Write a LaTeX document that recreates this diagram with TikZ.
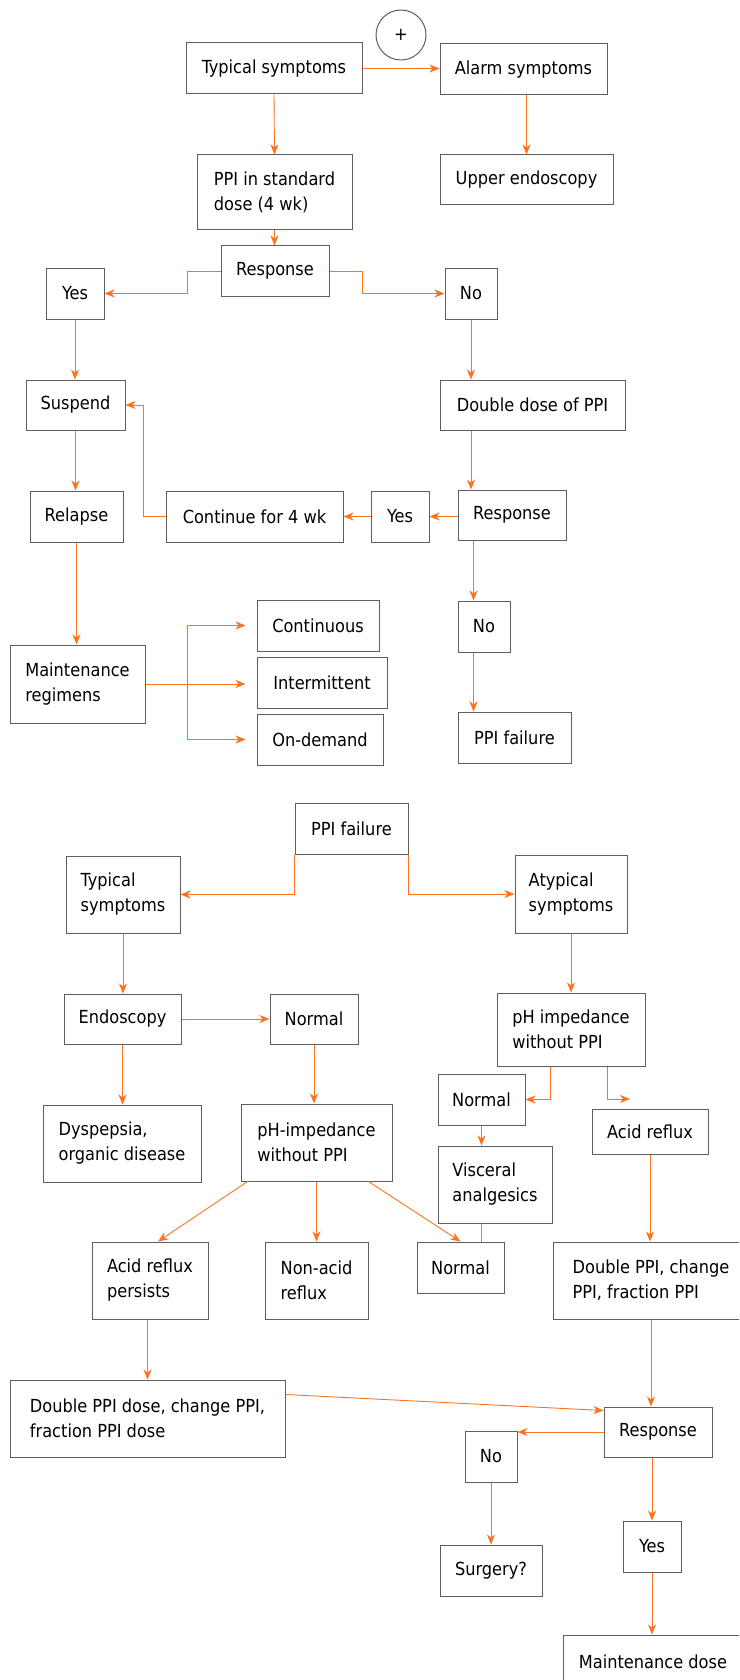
\documentclass[tikz,border=0pt]{standalone}
\usepackage{fontspec}
\setmainfont{DejaVu Sans Condensed}
\usepackage{tikz}
\usetikzlibrary{arrows.meta}
\definecolor{boxgray}{HTML}{5E5E5E}
\definecolor{flow}{RGB}{255,115,30}
\tikzset {
  % rectangular step box
  box/.style = {draw=boxgray, line width=1pt, inner sep=0pt, align=left,
    font=\fontsize{18}{25}\selectfont},
  % orange connectors
  link/.style={draw=flow, line width=0.9pt, -{Stealth[length=10pt, width=8pt, inset=3pt]}},
  bare/.style={draw=flow, line width=0.9pt},
}

\begin{document}
\begin{tikzpicture}[x=1pt, y=-1pt]
        \clip (0,0) rectangle (739,1680);
        \fill[white] (0,0) rectangle (739,1680);

        % first part
        \node[draw=boxgray, line width=1pt, circle, minimum size=50pt, inner sep=0pt,
          font=\fontsize{18}{22}\selectfont] (plus) at (401,35) {+};
        \node[box, minimum width=176pt, minimum height=51pt] (typ) at (274,68.5) {Typical symptoms};
        \node[box, minimum width=167pt, minimum height=51pt] (alarm) at (523.5,69.5) {Alarm symptoms};
        \node[box, minimum width=155pt, minimum height=75pt] (ppistd) at (274.5,192.5) {PPI in standard\\dose (4 wk)};
        \node[box, minimum width=173pt, minimum height=50pt] (upend) at (526.5,180) {Upper endoscopy};
        \node[box, minimum width=108pt, minimum height=50pt] (resp1) at (275,271) {Response};
        \node[box, minimum width=58pt, minimum height=51pt] (yes1) at (75,293.5) {Yes};
        \node[box, minimum width=52pt, minimum height=51pt] (no1) at (471,293.5) {No};
        \node[box, minimum width=99pt, minimum height=50pt] (susp) at (75.5,405) {Suspend};
        \node[box, minimum width=185pt, minimum height=50pt] (dbl) at (532.5,405) {Double dose of PPI};
        \node[box, minimum width=93pt, minimum height=51pt] (relapse) at (76.5,516.5) {Relapse};
        \node[box, minimum width=177pt, minimum height=51pt] (cont4) at (254.5,516.5) {Continue for 4 wk};
        \node[box, minimum width=58pt, minimum height=51pt] (yes2) at (400,516.5) {Yes};
        \node[box, minimum width=108pt, minimum height=50pt] (resp2) at (512,515) {Response};
        \node[box, minimum width=135pt, minimum height=78pt] (maint) at (77.5,684) {Maintenance\\regimens};
        \node[box, minimum width=122pt, minimum height=51pt] (contin) at (318,625.5) {Continuous};
        \node[box, minimum width=130pt, minimum height=51pt] (interm) at (322,682.5) {Intermittent};
        \node[box, minimum width=126pt, minimum height=51pt] (ondem) at (320,739.5) {On-demand};
        \node[box, minimum width=52pt, minimum height=51pt] (no2) at (484,626.5) {No};
        \node[box, minimum width=113pt, minimum height=51pt] (fail1) at (514.5,737.5) {PPI failure};

        \draw[link] (typ.east) -- (typ.east -| alarm.west);
        \draw[link] (typ.south) -- (ppistd.north);
        \draw[link] (upend.north |- alarm.south) -- (upend.north);
        \draw[link] (ppistd.south) -- (ppistd.south |- resp1.north);
        \draw[link] (resp1.west) -- ++(-33,0) |- (yes1.east);
        \draw[link] (resp1.east) -- ++(33,0) |- (no1.west);
        \draw[link] (yes1.south) -- (yes1.south |- susp.north);
        \draw[link] (no1.south) -- (no1.south |- dbl.north);
        \draw[link] (susp.south) -- (susp.south |- relapse.north);
        \draw[link] (no1.south |- dbl.south) -- (no1.south |- resp2.north);
        \draw[link] (resp2.west |- yes2.east) -- (yes2.east);
        \draw[link] (yes2.west) -- (cont4.east);
        \draw[link] (cont4.west) -- ++(-22,0) |- (susp.east);
        \draw[link] (relapse.south) -- (relapse.south |- maint.north);
        \coordinate (split) at ([xshift=42pt]maint.east);
        \draw[link, shorten >=11pt] (maint.east) -- (maint.east -| interm.west);
        \draw[link, shorten >=11pt] (split) |- (contin.west);
        \draw[link, shorten >=11pt] (split) |- (ondem.west);
        \draw[link] ([xshift=16pt]resp2.south west) -- ([xshift=16pt]resp2.south west |- no2.north);
        \draw[link] ([xshift=16pt]no2.south west) -- ([xshift=16pt]no2.south west |- fail1.north);

        % second part
        \node[box, minimum width=113pt, minimum height=51pt] (fail2) at (351.5,828.5) {PPI failure};
        \node[box, minimum width=114pt, minimum height=77pt] (typ2) at (123,894.5) {Typical\\symptoms};
        \node[box, minimum width=112pt, minimum height=78pt] (atyp) at (571,894) {Atypical\\symptoms};
        \node[box, minimum width=117pt, minimum height=50pt] (endo) at (122.5,1019) {Endoscopy};
        \node[box, minimum width=88pt, minimum height=50pt] (norm1) at (314,1019) {Normal};
        \node[box, minimum width=148pt, minimum height=73pt] (phimp) at (571,1029.5) {pH impedance\\without PPI};
        \node[box, minimum width=87pt, minimum height=51pt] (norm2) at (481.5,1099.5) {Normal};
        \node[box, minimum width=116pt, minimum height=45pt] (acid) at (650,1131.5) {Acid reflux};
        \node[box, minimum width=158pt, minimum height=77pt] (dysp) at (122,1143.5) {Dyspepsia,\\organic disease};
        \node[box, minimum width=151pt, minimum height=77pt] (phimp2) at (316.5,1142.5) {pH-impedance\\without PPI};
        \node[box, minimum width=114pt, minimum height=77pt] (visc) at (495,1184.5) {Visceral\\analgesics};
        \node[box, minimum width=116pt, minimum height=77pt] (acidp) at (150,1280.5) {Acid reflux\\persists};
        \node[box, minimum width=103pt, minimum height=77pt] (nonacid) at (316.5,1280.5) {Non-acid\\reflux};
        \node[box, minimum width=87pt, minimum height=51pt] (norm3) at (460.5,1267.5) {Normal};
        \node[box, minimum width=196pt, minimum height=77pt] (dblchg) at (651,1280.5) {Double PPI, change\\PPI, fraction PPI};
        \node[box, minimum width=275pt, minimum height=77pt] (dblppi) at (147.5,1418.5) {Double PPI dose, change PPI,\\fraction PPI dose};
        \node[box, minimum width=108pt, minimum height=50pt] (resp3) at (658,1432) {Response};
        \node[box, minimum width=52pt, minimum height=51pt] (no3) at (491,1456.5) {No};
        \node[box, minimum width=102pt, minimum height=51pt] (surg) at (491,1570.5) {Surgery?};
        \node[box, minimum width=58pt, minimum height=51pt] (yes3) at (652,1546.5) {Yes};
        \node[box, minimum width=180pt, minimum height=54pt] (maintd) at (653,1662) {Maintenance dose};
        \coordinate (acidin) at (630,1099);

        \draw[link] (fail2.south west) |- (typ2.east);
        \draw[link] (fail2.south east) |- (atyp.west);
        \draw[link] (typ2.south) -- (typ2.south |- endo.north);
        \draw[link] (endo.east) -- (norm1.west);
        \draw[link] (endo.south) -- (endo.south |- dysp.north);
        \draw[link] (norm1.south) -- (norm1.south |- phimp2.north);
        \draw[link] (atyp.south) -- (phimp.north);
        \draw[link] ([xshift=-21pt]phimp.south) |- (norm2.east);
        \draw[link] ([xshift=36pt]phimp.south) |- (acidin);
        \draw[link] (norm2.south) -- (norm2.south |- visc.north);
        \draw[bare] (norm2.south |- visc.south) -- (norm2.south |- norm3.north);
        \draw[link] ([xshift=7pt]phimp2.south west) -- ([xshift=8pt]acidp.north);
        \draw[link] (phimp2.south) -- (phimp2.south |- nonacid.north);
        \draw[link] ([xshift=-24pt]phimp2.south east) -- (norm3.north);
        \draw[link] (acid.south) -- (acid.south |- dblchg.north);
        \draw[link] (dblchg.south) -- (dblchg.south |- resp3.north);
        \draw[link] (dblppi.north |- acidp.south) -- (dblppi.north);
        \draw[link] ([yshift=-15pt]dblppi.north east) -- ([yshift=-4pt]resp3.north west);
        \draw[link] (resp3.west) -- (resp3.west -| no3.east);
        \draw[link] (no3.south) -- (surg.north);
        \draw[link] (yes3.north |- resp3.south) -- (yes3.north);
        \draw[link] (yes3.south) -- (yes3.south |- maintd.north);
      \end{tikzpicture}
\end{document}
